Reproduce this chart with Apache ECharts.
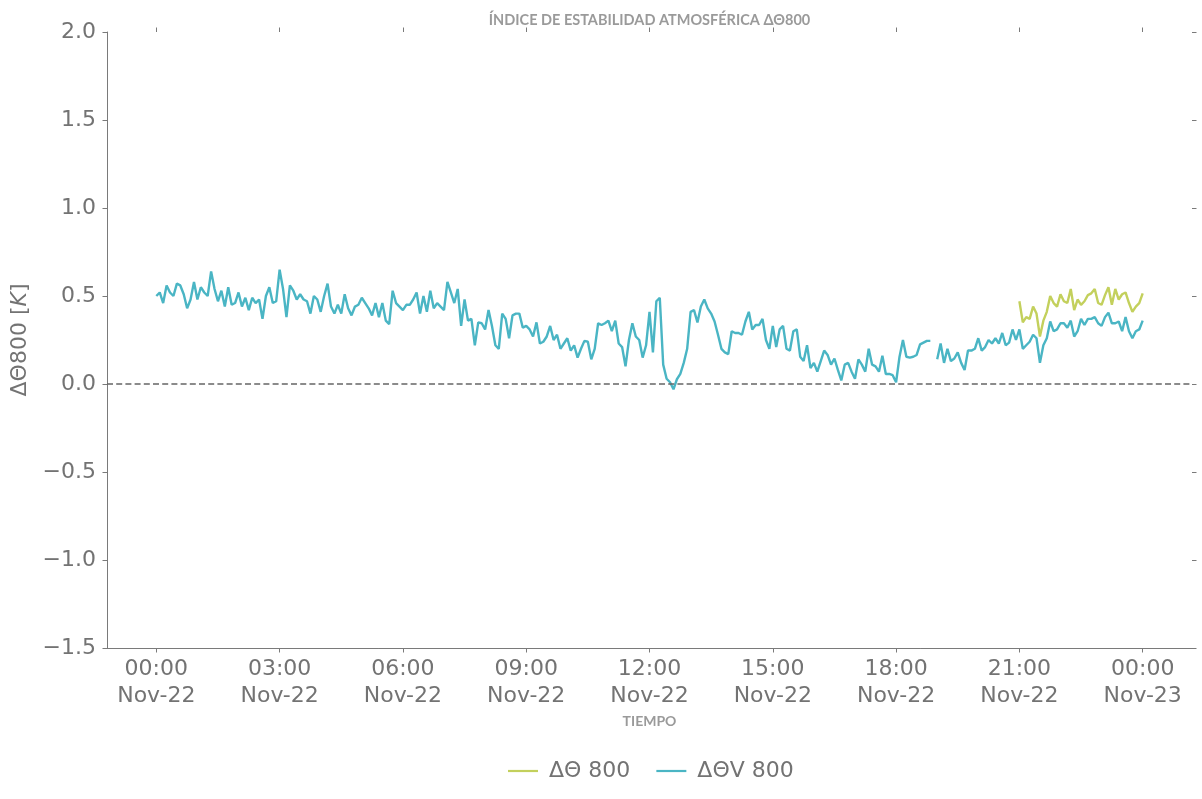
<!DOCTYPE html>
<html><head><meta charset="utf-8">
<script src="https://cdn.jsdelivr.net/npm/echarts@6/dist/echarts.min.js"></script>
<style>html,body{margin:0;padding:0;background:#fff}#c{width:1202px;height:799px}</style>
</head><body><div id="c"></div>
<script>
// time grid: Nov-22 00:00 to Nov-23 00:00, 5-minute samples (hours from Nov-22 00:00)
const stepMinutes = 5;
const dThetaV800 = [
0.50,0.52,0.46,0.56,0.52,0.50,0.57,0.56,0.51,0.43,0.48,0.58,0.48,0.55,0.52,0.50,0.64,0.54,0.47,0.53,
0.44,0.55,0.45,0.46,0.52,0.44,0.49,0.42,0.49,0.46,0.48,0.37,0.50,0.55,0.46,0.47,0.65,
0.54,0.38,0.56,0.53,0.48,0.51,0.48,0.47,0.40,0.50,0.48,0.41,0.50,0.57,0.44,0.40,0.45,0.40,0.51,0.43,
0.39,0.44,0.45,0.49,0.46,0.43,0.39,0.46,0.38,0.46,0.36,0.34,0.53,0.46,0.44,0.42,0.45,
0.45,0.48,0.52,0.40,0.50,0.41,0.53,0.43,0.46,0.44,0.42,0.58,0.52,0.46,0.54,0.33,0.48,0.36,0.37,0.22,
0.35,0.345,0.31,0.42,0.33,0.22,0.20,0.40,0.37,0.26,0.39,0.40,0.40,0.32,0.33,0.31,0.27,0.35,0.23,0.24,
0.27,0.33,0.25,0.28,0.20,0.23,0.26,0.19,0.22,0.15,0.20,0.245,0.24,0.14,0.20,0.345,0.335,
0.345,0.36,0.30,0.36,0.23,0.21,0.10,0.25,0.345,0.27,0.25,0.15,0.22,0.41,0.18,0.47,0.49,0.11,0.03,0.01,
-0.03,0.027,0.057,0.12,0.20,0.41,0.42,0.35,0.44,0.48,0.43,0.40,0.355,0.28,0.20,0.18,0.17,0.30,0.29,0.29,
0.28,0.355,0.41,0.31,0.335,0.335,0.37,0.25,0.20,0.33,0.21,0.31,0.33,0.20,0.19,0.30,0.31,
0.155,0.13,0.22,0.09,0.12,0.07,0.13,0.19,0.165,0.11,0.145,0.08,0.02,0.11,0.12,0.07,0.03,0.14,0.11,0.07,
0.20,0.11,0.10,0.07,0.16,0.057,0.057,0.05,0.01,0.155,0.25,0.155,0.15,0.155,0.165,0.225,0.235,0.245,0.245,null,
0.14,0.23,0.12,0.20,0.13,0.145,0.18,0.12,0.08,0.19,0.19,0.20,0.26,0.19,0.21,0.25,0.23,
0.26,0.23,0.29,0.22,0.235,0.31,0.25,0.31,0.20,0.22,0.24,0.28,0.26,0.12,0.22,0.26,0.355,0.30,0.31,0.345,
0.345,0.32,0.36,0.27,0.30,0.37,0.335,0.37,0.37,0.38,0.345,0.33,0.38,0.405,0.345,0.345,0.355,0.30,0.38,0.30,
0.26,0.30,0.31,0.36
];
const dTheta800StartIndex = 252; // 21:00
const dTheta800 = [
0.47,0.35,0.38,0.37,0.44,0.40,0.27,0.36,0.41,0.50,0.46,0.44,0.51,0.47,0.46,0.54,0.42,0.48,0.45,0.47,
0.505,0.515,0.54,0.46,0.45,0.505,0.55,0.45,0.54,0.48,0.51,0.52,0.46,0.41,0.44,0.46,0.515
];
const tickHours = [0,3,6,9,12,15,18,21,24];
const tickLabels = ['00:00\nNov-22','03:00\nNov-22','06:00\nNov-22','09:00\nNov-22','12:00\nNov-22',
  '15:00\nNov-22','18:00\nNov-22','21:00\nNov-22','00:00\nNov-23'];
const seriesNames = ['ΔΘ 800','ΔΘV 800'];
const titleText = 'ÍNDICE DE ESTABILIDAD ATMOSFÉRICA ΔΘ800';

const TXT = '#737373', SPINE = '#7a7a7a';
const toXY = (arr, off) => arr.map((v, i) => [(i + off) * stepMinutes / 60, v]);
const chart = echarts.init(document.getElementById('c'), null, {renderer: 'canvas'});
const font = '"DejaVu Sans", sans-serif';
chart.setOption({
  animation: false,
  textStyle: {fontFamily: font},
  title: {text: titleText, left: 649.5, textAlign: 'center', top: 13, padding: 0,
    textStyle: {fontFamily: 'Lato, "DejaVu Sans"', fontWeight: 'bold', fontSize: 14.5, color: '#9a9a9a'}},
  grid: {left: 107, right: 10, top: 32, bottom: 151, containLabel: false},
  legend: {data: seriesNames, left: 508, top: 760, padding: 0, itemWidth: 30, itemHeight: 14, itemGap: 26,
    icon: 'path://M0,6 L30,6 L30,8.2 L0,8.2 Z',
    textStyle: {fontSize: 22, color: TXT, fontFamily: font, padding: [0, 0, 0, 6]}},
  xAxis: [{
    type: 'value', min: -1.2, max: 25.2, position: 'bottom',
    name: 'TIEMPO', nameLocation: 'middle', nameGap: 62,
    nameTextStyle: {fontFamily: 'Lato, "DejaVu Sans"', fontWeight: 'bold', fontSize: 14, color: '#9a9a9a'},
    axisLine: {show: true, onZero: false, lineStyle: {color: SPINE, width: 1}},
    axisTick: {show: true, customValues: tickHours, length: 4.5, lineStyle: {color: SPINE}},
    axisLabel: {customValues: tickHours, fontSize: 22, color: TXT, lineHeight: 27, margin: 8,
      formatter: v => tickLabels[tickHours.indexOf(v)] || ''},
    splitLine: {show: false}
  }, {
    type: 'value', min: -1.2, max: 25.2, position: 'top',
    axisLine: {show: false, onZero: false},
    axisTick: {show: true, customValues: tickHours, length: 4.5, lineStyle: {color: SPINE}},
    axisLabel: {show: false}, splitLine: {show: false}
  }],
  yAxis: [{
    type: 'value', min: -1.5, max: 2.0, interval: 0.5, position: 'left',
    name: '{a|ΔΘ800 [}{i|K}{a|]}', nameLocation: 'middle', nameGap: 76, nameRotate: 90,
    nameTextStyle: {rich: {a: {fontSize: 22, color: TXT, fontFamily: font},
      i: {fontSize: 22, color: TXT, fontFamily: font, fontStyle: 'italic'}}},
    axisLine: {show: true, onZero: false, lineStyle: {color: SPINE, width: 1}},
    axisTick: {show: true, length: 4.5, lineStyle: {color: SPINE}},
    axisLabel: {fontSize: 22, color: TXT, margin: 11,
      formatter: v => v.toFixed(1).replace('-', '\u2212')},
    splitLine: {show: false}
  }, {
    type: 'value', min: -1.5, max: 2.0, interval: 0.5, position: 'right',
    axisLine: {show: false, onZero: false},
    axisTick: {show: true, length: 4.5, lineStyle: {color: SPINE}},
    axisLabel: {show: false}, splitLine: {show: false}
  }],
  series: [{
    name: seriesNames[1], type: 'line', xAxisIndex: 0, yAxisIndex: 0,
    data: toXY(dThetaV800, 0), symbol: 'none', connectNulls: false,
    lineStyle: {color: '#4ab5c4', width: 2.4}, itemStyle: {color: '#4ab5c4'},
    markLine: {silent: true, symbol: 'none', label: {show: false},
      lineStyle: {color: '#666', width: 1.7, type: [6, 3.2]}, data: [{yAxis: 0}]}
  }, {
    name: seriesNames[0], type: 'line', xAxisIndex: 0, yAxisIndex: 0,
    data: toXY(dTheta800, dTheta800StartIndex), symbol: 'none',
    lineStyle: {color: '#c3d05c', width: 2.4}, itemStyle: {color: '#c3d05c'}
  }]
});
</script></body></html>
